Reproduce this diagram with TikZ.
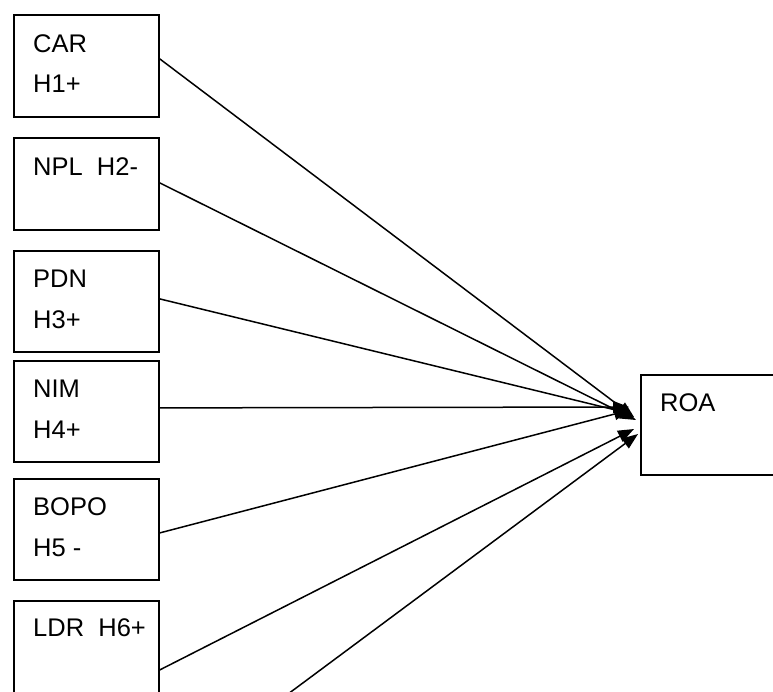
\documentclass[tikz,border=0pt]{standalone}
\usepackage{fontspec}
\setmainfont{Liberation Sans}
\usetikzlibrary{arrows.meta}
\begin{document}
\begin{tikzpicture}[x=1pt,y=-1pt,
  box/.style={draw, line width=1.8pt, rectangle, inner sep=0pt, anchor=north west},
  lbl/.style={anchor=base west, inner sep=0pt, font=\fontsize{25.5}{30}\selectfont},
  arr/.style={line width=1.5pt, -{Triangle[length=16pt,width=12pt]}}]
\useasboundingbox (0,0) rectangle (773,691);
\clip (0,0) rectangle (773,691);
% boxes
\node[box, minimum width=145pt, minimum height=102pt] (car) at (13,14) {};
\node[box, minimum width=145pt, minimum height=92pt] (npl) at (13,137) {};
\node[box, minimum width=145pt, minimum height=101pt] (pdn) at (13,250) {};
\node[box, minimum width=145pt, minimum height=101pt] (nim) at (13,360) {};
\node[box, minimum width=145pt, minimum height=101pt] (bopo) at (13,478) {};
\node[box, minimum width=145pt, minimum height=120pt] (ldr) at (13,600) {};
\node[box, minimum width=160pt, minimum height=100pt] (roa) at (640,374) {};
% labels
\node[lbl] (tcar) at (33,52) {CAR};
\node[lbl] (th1) at (33,92) {H1+};
\node[lbl] (tnpl) at (33,175) {NPL~~H2-};
\node[lbl] (tpdn) at (33,287) {PDN};
\node[lbl] (th3) at (33,328) {H3+};
\node[lbl] (tnim) at (33,397) {NIM};
\node[lbl] (th4) at (33,438) {H4+};
\node[lbl] (tbopo) at (33,515) {BOPO};
\node[lbl] (th5) at (33,556) {H5 -};
\node[lbl] (tldr) at (33,636) {LDR~~H6+};
\node[lbl] (troa) at (660,411) {ROA};
% arrow ends
\coordinate (e1) at (634,417);
\coordinate (e2) at (636,420);
\coordinate (e3) at (632,414);
\coordinate (e4) at (629,407);
\coordinate (e5) at (630,410);
\coordinate (e6) at (634,429);
\coordinate (e7) at (638,434);
\coordinate (s7) at (253,720);
% connectors
\draw[arr] ([yshift=7pt]car.east) -- (e1);
\draw[arr] ([yshift=1pt]npl.east) -- (e2);
\draw[arr] ([yshift=2.5pt]pdn.east) -- (e3);
\draw[arr] ([yshift=3.5pt]nim.east) -- (e4);
\draw[arr] ([yshift=-3.5pt]bopo.east) -- (e5);
\draw[arr] ([yshift=-9pt]ldr.east) -- (e6);
\draw[arr] (s7) -- (e7);
\end{tikzpicture}
\end{document}
